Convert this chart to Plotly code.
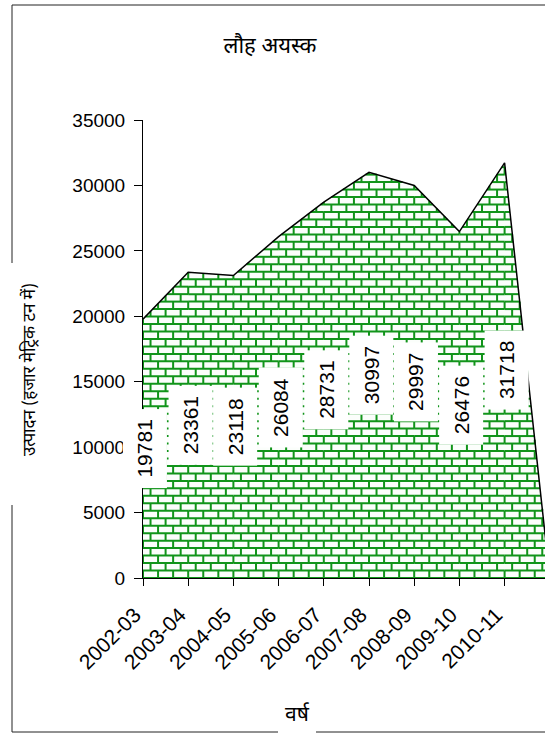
import numpy as np
import plotly.graph_objects as go

# Iron ore production (thousand metric tonnes) by financial year
years = ["2002-03", "2003-04", "2004-05", "2005-06", "2006-07",
         "2007-08", "2008-09", "2009-10", "2010-11", ""]
production = [19781, 23361, 23118, 26084, 28731, 30997, 29997, 26476, 31718, 0]
y_ticks = [0, 5000, 10000, 15000, 20000, 25000, 30000, 35000]

# Canvas and plot-area geometry (pixels)
W, H = 545, 733
L, R, T, B = 143, 0, 120, 155
PW, PH = W - L - R, H - T - B
Y_MAX = 35000
CAT_PX = 45.2                      # pixel width of one category step
X_MAX = PW / CAT_PX                # visible end of the category axis

# Brick texture sizes in pixels, converted to axis units
ROW_PX, BRICK_PX = 7.47, CAT_PX / 3
row_u = ROW_PX * Y_MAX / PH
brick_u = BRICK_PX / CAT_PX

xs = np.arange(len(production), dtype=float)
vals = np.array(production, dtype=float)
top_val = vals.max()


def curve(x):
    return np.interp(x, xs, vals)


def runs_above(h):
    """Intervals of x where the area boundary lies at or above level h."""
    out = []
    for i in range(len(xs) - 1):
        x0, x1, v0, v1 = xs[i], xs[i + 1], vals[i], vals[i + 1]
        if v0 >= h and v1 >= h:
            out.append((x0, x1))
        elif v0 >= h or v1 >= h:
            xc = x0 + (h - v0) / (v1 - v0) * (x1 - x0)
            out.append((x0, xc) if v0 >= h else (xc, x1))
    return out


# Mortar lines of the brick fill, clipped to the area under the curve
mx, my = [], []
k = 0
while k * row_u < top_val:
    h0, h1 = k * row_u, (k + 1) * row_u
    for a, b in runs_above(h0):
        mx += [a, b, None]
        my += [h0, h0, None]
    xj = (k % 2) * brick_u / 2
    while xj <= xs[-1]:
        top = min(h1, curve(xj))
        if top > h0:
            mx += [xj, xj, None]
            my += [h0, top, None]
        xj += brick_u
    k += 1

fig = go.Figure()
fig.add_trace(go.Scatter(x=xs, y=vals, mode="lines", fill="tozeroy",
                         fillcolor="#fbfefb", line=dict(width=0),
                         hoverinfo="skip", showlegend=False))
fig.add_trace(go.Scatter(x=mx, y=my, mode="lines",
                         line=dict(color="#11941a", width=2),
                         hoverinfo="skip", showlegend=False))
fig.add_trace(go.Scatter(x=xs, y=vals, mode="lines",
                         line=dict(color="black", width=1.5),
                         hoverinfo="skip", showlegend=False))

num_font = dict(family="Arial, Liberation Sans, sans-serif", color="black")

# Value labels, rotated, centred at half the height of each point
for i, (yr, v) in enumerate(zip(years, production)):
    if not yr:
        continue
    fig.add_annotation(x=i, y=v / 2, xref="x", yref="y", text=str(v),
                       textangle=-90, showarrow=False, bgcolor="white",
                       xanchor="center", yanchor="middle", xshift=2,
                       borderpad=10, font=dict(size=21, **num_font))


def px_x(p):
    return (p - L) / PW


def px_y(p):
    return (H - B - p) / PH


deva = "Noto Sans Devanagari, Noto Sans, Lato, sans-serif"
fig.add_annotation(x=px_x(30), y=px_y(370), xref="paper", yref="paper",
                   xanchor="center", yanchor="middle",
                   text="उत्पादन (हजार मेट्रिक टन में)", textangle=-90,
                   showarrow=False, font=dict(family=deva, size=17, color="black"))
fig.add_annotation(x=px_x(297), y=px_y(716), xref="paper", yref="paper",
                   xanchor="center", yanchor="middle",
                   text="वर्ष", showarrow=False,
                   font=dict(family=deva, size=21, color="black"))

# Outer frame around the chart, open where the axis titles sit
frame = dict(color="#222", width=1)
segments = [
    (12, 5, 560, 5),
    (12, 5, 12, 263),
    (12, 505, 12, 732),
    (12, 732, 278, 732),
    (316, 732, 560, 732),
]
for x0, y0, x1, y1 in segments:
    fig.add_shape(type="line", xref="paper", yref="paper",
                  x0=px_x(x0), y0=px_y(y0), x1=px_x(x1), y1=px_y(y1),
                  line=frame)

fig.update_layout(
    width=W, height=H,
    margin=dict(l=L, r=R, t=T, b=B, autoexpand=False),
    paper_bgcolor="white", plot_bgcolor="white",
    title=dict(text="लौह अयस्क", x=270 / W, y=1 - 45 / H,
               xanchor="center", yanchor="middle",
               font=dict(family=deva, size=22, color="black")),
)
fig.update_xaxes(range=[0, X_MAX], tickvals=list(range(9)),
                 ticktext=[y + "\u00a0\u00a0" for y in years[:9]],
                 tickangle=-45, ticks="outside", ticklen=7, tickcolor="black",
                 showline=True, linecolor="black", linewidth=1,
                 showgrid=False, zeroline=False, automargin=False,
                 tickfont=dict(size=21, **num_font))
fig.update_yaxes(range=[0, Y_MAX], tickvals=y_ticks,
                 ticktext=[str(t) for t in y_ticks], ticklabelstandoff=5,
                 ticks="outside", ticklen=8, tickcolor="black",
                 showline=True, linecolor="black", linewidth=1,
                 showgrid=False, zeroline=False, automargin=False,
                 tickfont=dict(size=19, **num_font))

fig.write_html("out.html")
